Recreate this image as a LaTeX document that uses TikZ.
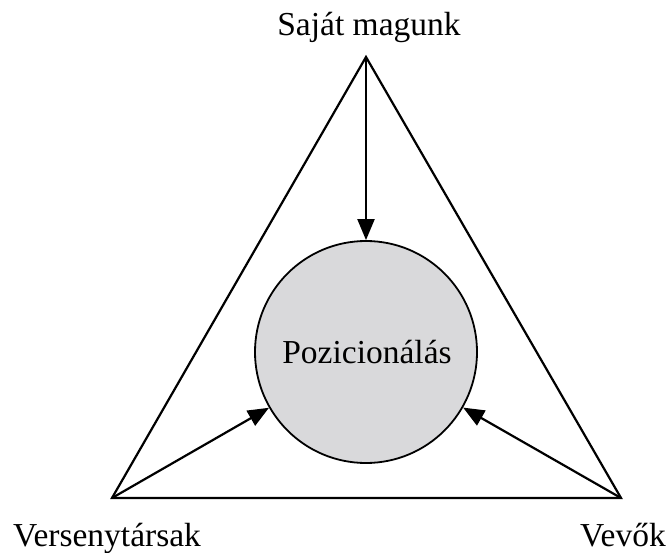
\documentclass[tikz,border=0pt]{standalone}
\usepackage{fontspec}
\setmainfont{Liberation Serif}
\usetikzlibrary{arrows.meta}
\definecolor{discgray}{HTML}{D9D9DB}
\tikzset{
  edge/.style={line width=2.2pt, line join=miter},
  push/.style={line width=2.2pt, -{Triangle[length=21pt,width=17pt]}},
  label/.style={font=\fontsize{33.5}{37}\selectfont, anchor=base, inner sep=0pt},
  disc/.style={circle, draw, line width=1.8pt, fill=discgray, minimum size=222pt, inner sep=0pt}
}
\begin{document}
\begin{tikzpicture}[x=1pt, y=-1pt]
  \useasboundingbox (0,0) rectangle (668,553);
  % corners of the triangle
  \coordinate (top) at (366,57);
  \coordinate (left) at (112,498);
  \coordinate (right) at (621,498);
  % central disc
  \node[disc] (pos) at (366,352) {};
  \node[label] (postext) at (367,363) {Pozicionálás};
  % triangle
  \draw[edge] (top) -- (left) -- (right) -- cycle;
  % influences on positioning
  \draw[push] (top) -- (pos.north);
  \draw[push] (left) -- (pos);
  \draw[push] (right) -- (pos);
  % corner labels
  \node[label] (self) at (369,36) {Saját magunk};
  \node[label] (rivals) at (107,546) {Versenytársak};
  \node[label] (buyers) at (623,546) {Vevők};
\end{tikzpicture}
\end{document}
